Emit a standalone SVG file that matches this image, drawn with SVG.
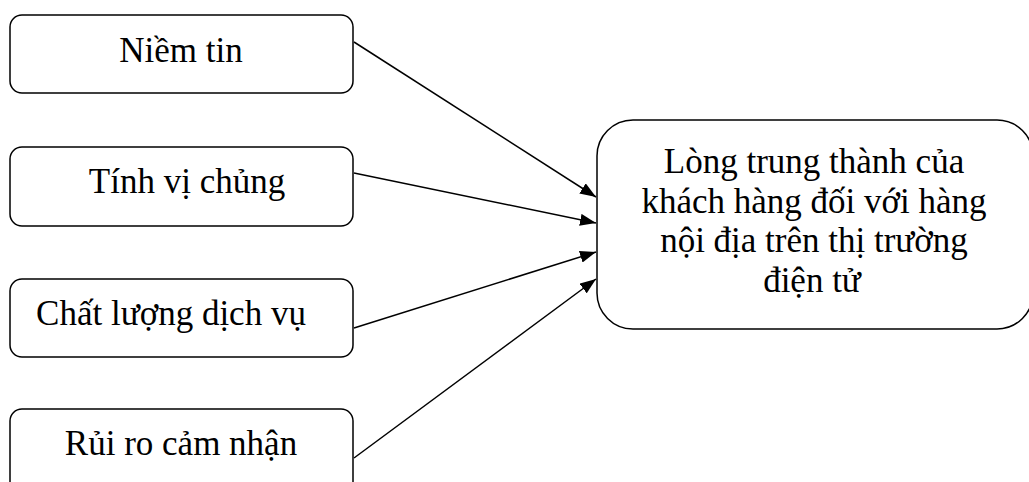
<svg xmlns="http://www.w3.org/2000/svg" width="1029" height="482" viewBox="0 0 1029 482">
<style>
.box{fill:#fff;stroke:#000;stroke-width:1.5}
.t{font-family:"Liberation Serif","Times New Roman",serif;font-size:35px;fill:#000;text-anchor:middle}
.c{stroke:#000;stroke-width:1.5;fill:none;marker-end:url(#ah)}
</style>
<defs>
<marker id="ah" viewBox="0 0 16 12" refX="16" refY="6" markerWidth="16" markerHeight="12" markerUnits="userSpaceOnUse" orient="auto">
<path d="M0,0 L16,6 L0,12 Z" fill="#000"/>
</marker>
</defs>
<rect width="1029" height="482" fill="#fff"/>
<g id="connectors">
<line class="c" x1="354" y1="42" x2="596" y2="197"/>
<line class="c" x1="354" y1="173" x2="596" y2="223"/>
<line class="c" x1="354" y1="328" x2="596" y2="252"/>
<line class="c" x1="354" y1="458" x2="596" y2="279"/>
</g>
<g id="n1">
<rect class="box" x="10" y="15" width="343" height="78" rx="12"/>
<text class="t" x="181" y="62">Niềm tin</text>
</g>
<g id="n2">
<rect class="box" x="10" y="147" width="343" height="79" rx="12"/>
<text class="t" x="187" y="193">Tính vị chủng</text>
</g>
<g id="n3">
<rect class="box" x="10" y="279" width="343" height="78" rx="12"/>
<text class="t" x="171" y="325">Chất lượng dịch vụ</text>
</g>
<g id="n4">
<rect class="box" x="10" y="409" width="343" height="90" rx="12"/>
<text class="t" x="181" y="455">Rủi ro cảm nhận</text>
</g>
<g id="n5">
<rect class="box" x="597" y="120" width="436" height="209" rx="36"/>
<text class="t" x="814" y="173">Lòng trung thành của</text>
<text class="t" x="814" y="212.5">khách hàng đối với hàng</text>
<text class="t" x="814" y="252">nội địa trên thị trường</text>
<text class="t" x="812" y="291.5">điện tử</text>
</g>
</svg>
